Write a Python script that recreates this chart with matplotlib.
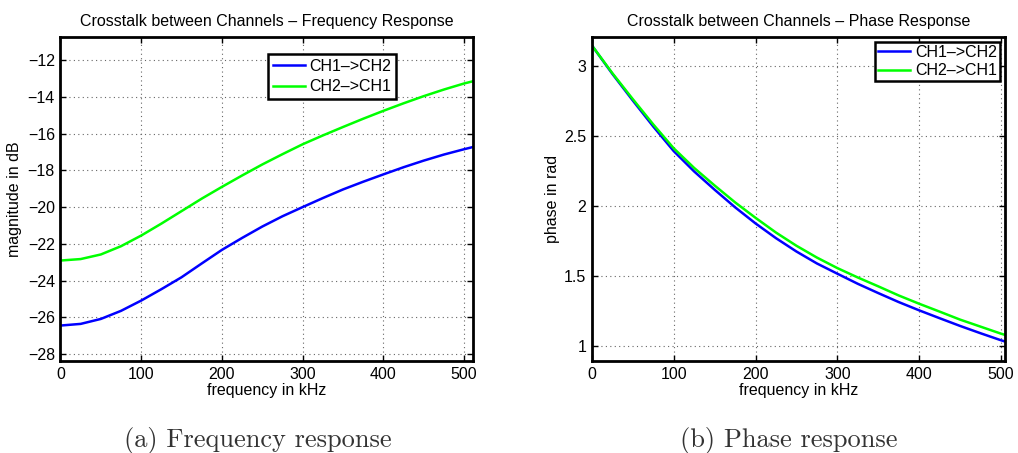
import matplotlib.pyplot as plt

# values
freq_mag = [0, 25, 50, 75, 100, 125, 150, 175, 200, 225, 250, 275, 300,
            325, 350, 375, 400, 425, 450, 475, 500, 511]
mag_ch1_ch2 = [-26.45, -26.36, -26.09, -25.65, -25.09, -24.47, -23.82, -23.07,
               -22.33, -21.68, -21.06, -20.50, -20.00, -19.51, -19.04, -18.62,
               -18.22, -17.83, -17.47, -17.14, -16.85, -16.73]
mag_ch2_ch1 = [-22.91, -22.83, -22.58, -22.13, -21.55, -20.90, -20.22, -19.54,
               -18.90, -18.28, -17.68, -17.12, -16.58, -16.10, -15.64, -15.19,
               -14.76, -14.35, -13.96, -13.60, -13.27, -13.15]

freq_phase = [0, 25, 50, 75, 100, 125, 150, 175, 200, 225, 250, 275, 300,
              325, 350, 375, 400, 425, 450, 475, 500, 505]
phase_ch1_ch2 = [3.142, 2.940, 2.750, 2.565, 2.390, 2.245, 2.115, 1.990,
                 1.875, 1.770, 1.675, 1.590, 1.517, 1.445, 1.379, 1.315,
                 1.256, 1.200, 1.145, 1.093, 1.043, 1.034]
phase_ch2_ch1 = [3.142, 2.945, 2.760, 2.580, 2.410, 2.270, 2.145, 2.025,
                 1.915, 1.810, 1.716, 1.632, 1.557, 1.490, 1.427, 1.362,
                 1.303, 1.247, 1.190, 1.140, 1.090, 1.081]

labels = ['CH1–>CH2', 'CH2–>CH1']
mag_ticks = [-28, -26, -24, -22, -20, -18, -16, -14, -12]
phase_ticks = [1, 1.5, 2, 2.5, 3]
x_ticks = [0, 100, 200, 300, 400, 500]

plt.rcParams['font.family'] = ['Liberation Sans', 'DejaVu Sans']
plt.rcParams['font.size'] = 11.5

fig = plt.figure(figsize=(10.18, 4.53), dpi=100)
ax1 = fig.add_axes([0.0594, 0.2031, 0.4052, 0.7152])
ax2 = fig.add_axes([0.5815, 0.2031, 0.4057, 0.7152])


def style(ax):
    for s in ax.spines.values():
        s.set_linewidth(2.0)
    ax.tick_params(direction='in', top=True, right=True, length=4, width=1,
                   pad=4, labelsize=11.5)
    ax.grid(True, color='#666666', linestyle=(0, (1, 3)), linewidth=0.8)
    ax.set_xticks(x_ticks)
    ax.set_xlabel('frequency in kHz', labelpad=1)


# frequency response
ax1.plot(freq_mag, mag_ch1_ch2, color='#0000ff', lw=1.8, label=labels[0])
ax1.plot(freq_mag, mag_ch2_ch1, color='#00ff00', lw=1.8, label=labels[1])
ax1.set_xlim(0, 511)
ax1.set_ylim(-28.38, -10.74)
ax1.set_yticks(mag_ticks)
style(ax1)
ax1.set_ylabel('magnitude in dB', labelpad=4)
ax1.set_title('Crosstalk between Channels – Frequency Response', fontsize=11.5, pad=8)
leg1 = ax1.legend(loc='upper left', bbox_to_anchor=(0.503, 0.9475), fancybox=False,
                  edgecolor='black', framealpha=1, borderpad=0.3, labelspacing=0.35,
                  handlelength=2.0, handletextpad=0.3, borderaxespad=0, fontsize=11.5)
leg1.get_frame().set_linewidth(1.8)

# phase response
ax2.plot(freq_phase, phase_ch1_ch2, color='#0000ff', lw=1.8, label=labels[0])
ax2.plot(freq_phase, phase_ch2_ch1, color='#00ff00', lw=1.8, label=labels[1])
ax2.set_xlim(0, 505)
ax2.set_ylim(0.895, 3.203)
ax2.set_yticks(phase_ticks)
ax2.set_yticklabels(['1', '1.5', '2', '2.5', '3'])
style(ax2)
ax2.set_ylabel('phase in rad', labelpad=3)
ax2.set_title('Crosstalk between Channels – Phase Response', fontsize=11.5, pad=8)
leg2 = ax2.legend(loc='upper right', bbox_to_anchor=(0.988, 0.985), fancybox=False,
                  edgecolor='black', framealpha=1, borderpad=0.2, labelspacing=0.2,
                  handlelength=2.0, handletextpad=0.3, borderaxespad=0, fontsize=11.5)
leg2.get_frame().set_linewidth(1.8)

# subfigure captions
fig.text(0.253, 0.0143, '(a) Frequency response', family='cmr10', fontsize=19,
         color='#333333', ha='center', va='baseline')
fig.text(0.775, 0.0143, '(b) Phase response', family='cmr10', fontsize=19,
         color='#333333', ha='center', va='baseline')

fig.savefig('out.png', dpi=100, facecolor='white')
